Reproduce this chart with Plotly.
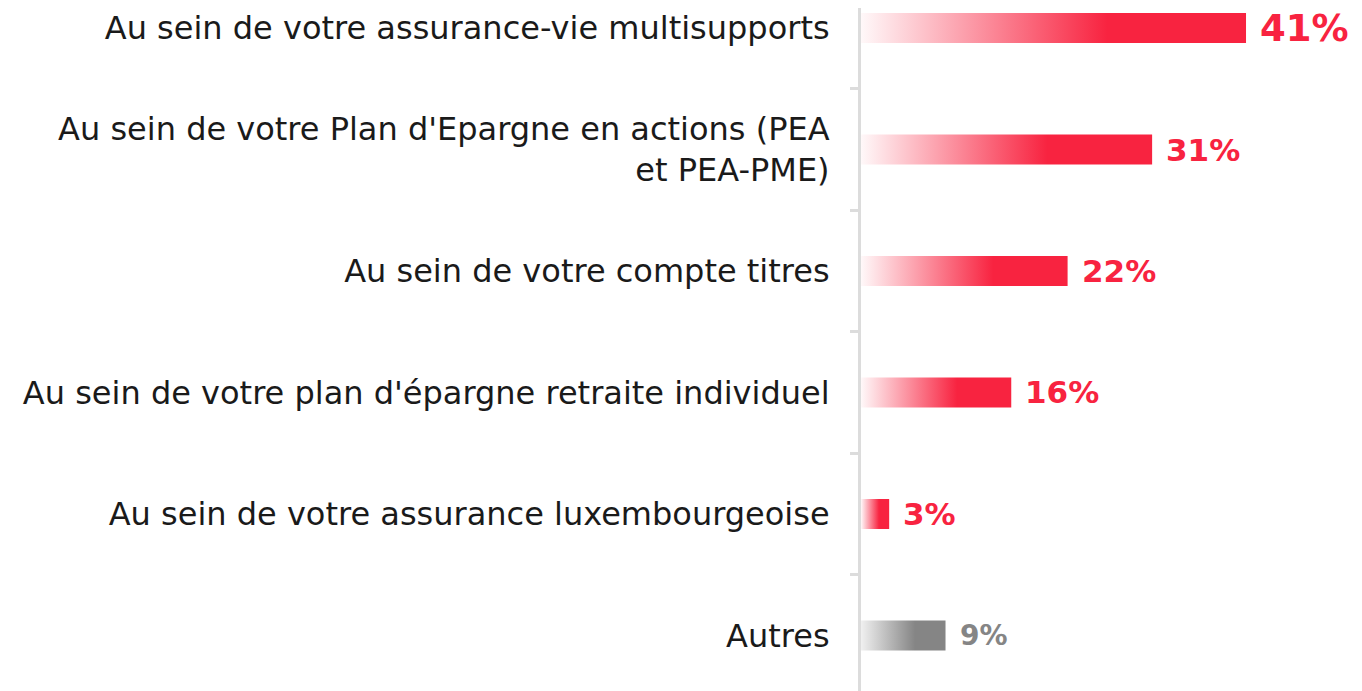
import plotly.graph_objects as go

categories = [
    "Au sein de votre assurance-vie multisupports",
    "Au sein de votre Plan d'Epargne en actions (PEA<br>et PEA-PME)",
    "Au sein de votre compte titres",
    "Au sein de votre plan d'épargne retraite individuel",
    "Au sein de votre assurance luxembourgeoise",
    "Autres",
]
values = [41, 31, 22, 16, 3, 9]
value_labels = [f"{v}%" for v in values]

RED = (248, 35, 64)
GRAY = (133, 133, 133)
bar_colors = [RED, RED, RED, RED, RED, GRAY]
label_sizes = [37, 31, 31, 31, 31, 28]

half_h = 0.1235
FONT = "DejaVu Sans"

fig = go.Figure()
for i, (v, c) in enumerate(zip(values, bar_colors)):
    r, g, b = c
    start = "rgba(%d,%d,%d,0.03)" % (r, g, b) if c == RED else "rgba(240,240,240,1)"
    end = "rgba(%d,%d,%d,1)" % (r, g, b)
    fig.add_trace(go.Scatter(
        x=[0, v, v, 0, 0],
        y=[i - half_h, i - half_h, i + half_h, i + half_h, i - half_h],
        mode="lines",
        line=dict(width=0),
        fill="toself",
        fillcolor=end,
        fillgradient=dict(type="horizontal",
                          colorscale=[[0, start], [0.64, end], [1, end]]),
        hoverinfo="skip",
        showlegend=False,
    ))
    fig.add_annotation(
        x=v, y=i, text=value_labels[i], showarrow=False,
        xanchor="left", yanchor="middle", xshift=12,
        font=dict(family=FONT, size=label_sizes[i], weight="bold",
                  color="rgb(%d,%d,%d)" % (r, g, b)),
    )

fig.update_layout(
    width=1354, height=683,
    margin=dict(l=853, r=0, t=0, b=0, autoexpand=False),
    paper_bgcolor="white", plot_bgcolor="white",
    xaxis=dict(range=[0, 53.35], visible=False, fixedrange=True,
               automargin=False),
    yaxis=dict(
        range=[5.457, -0.1647],
        automargin=False,
        tickvals=list(range(len(categories))),
        ticktext=categories,
        ticks="",
        showgrid=False, zeroline=False,
        showline=True, linecolor="#dcdcdc", linewidth=3,
        ticklabelstandoff=22,
        tickfont=dict(family=FONT, size=32, color="#1a1a1a"),
        minor=dict(tickvals=[k + 0.5 for k in range(len(categories) - 1)],
                   ticks="outside", ticklen=8, tickwidth=3,
                   tickcolor="#dcdcdc", showgrid=False),
    ),
)

fig.write_html("out.html")
